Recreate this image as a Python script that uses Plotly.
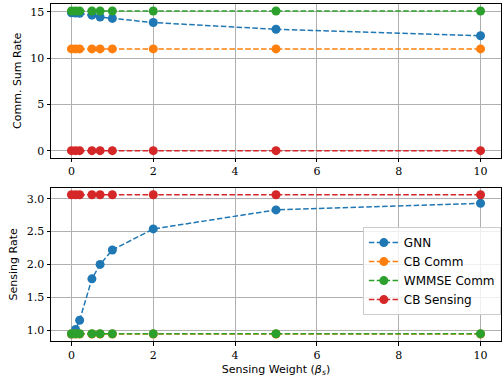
import plotly.graph_objects as go
from plotly.subplots import make_subplots

beta = [0, 0.1, 0.2, 0.5, 0.7, 1, 2, 5, 10]

series_names = ["GNN", "CB Comm", "WMMSE Comm", "CB Sensing"]
colors = ["#1f77b4", "#ff7f0e", "#2ca02c", "#d62728"]

comm_gnn = [14.9, 14.88, 14.85, 14.65, 14.45, 14.3, 13.85, 13.12, 12.42]
comm_cb_comm = [11.0] * 9
comm_wmmse = [15.1] * 9
comm_cb_sens = [0.0] * 9

sens_gnn = [0.94, 1.01, 1.15, 1.78, 2.0, 2.22, 2.54, 2.83, 2.93]
sens_cb_comm = [0.94] * 9
sens_wmmse = [0.945] * 9
sens_cb_sens = [3.06] * 9

x_ticks = [0, 2, 4, 6, 8, 10]
comm_ticks = [0, 5, 10, 15]
sens_ticks = [1.0, 1.5, 2.0, 2.5, 3.0]

fig = make_subplots(rows=2, cols=1, vertical_spacing=0.09)

comm = [comm_gnn, comm_cb_comm, comm_wmmse, comm_cb_sens]
sens = [sens_gnn, sens_cb_comm, sens_wmmse, sens_cb_sens]

for i, name in enumerate(series_names):
    style = dict(mode="lines+markers",
                 line=dict(color=colors[i], width=1.5, dash="5.5px,2.4px"),
                 marker=dict(color=colors[i], size=9))
    fig.add_trace(go.Scatter(x=beta, y=comm[i], name=name, showlegend=False, **style), row=1, col=1)
    fig.add_trace(go.Scatter(x=beta, y=sens[i], name=name, showlegend=True, **style), row=2, col=1)

tick_font = dict(family="DejaVu Serif", size=11, color="black")
title_font = dict(family="DejaVu Sans", size=11, color="black")
axis_common = dict(showline=True, linecolor="black", linewidth=1, mirror=True,
                   ticks="outside", ticklen=3.5, tickwidth=1, tickcolor="black",
                   showgrid=True, gridcolor="#b0b0b0", gridwidth=0.8,
                   zeroline=False, tickfont=tick_font, automargin=False)

fig.update_xaxes(range=[-0.5, 10.5], tickvals=x_ticks, **axis_common)
fig.update_xaxes(domain=[0, 1])
fig.update_yaxes(**axis_common)

fig.update_yaxes(range=[-0.755, 15.855], tickvals=comm_ticks, domain=[0.544, 1.0],
                 title=dict(text="Comm. Sum Rate", font=title_font, standoff=6), row=1, col=1)
fig.update_yaxes(range=[0.834, 3.168], tickvals=sens_ticks, tickformat=".1f", domain=[0.0, 0.455],
                 title=dict(text="Sensing Rate", font=title_font, standoff=6), row=2, col=1)
fig.update_xaxes(title=dict(text="Sensing Weight (<i>β<sub>s</sub></i>)", font=title_font, standoff=4),
                 row=2, col=1)

fig.update_layout(
    width=503, height=381,
    margin=dict(l=51, r=2, t=4, b=40),
    paper_bgcolor="white", plot_bgcolor="white",
    legend=dict(x=0.693, y=0.338, xanchor="left", yanchor="top",
                bgcolor="rgba(255,255,255,0.8)", bordercolor="#cccccc", borderwidth=1,
                font=dict(family="DejaVu Sans", size=12, color="black"),
                itemwidth=30, tracegroupgap=0),
)

fig.write_html("out.html", config={"displayModeBar": False},
               post_script="document.body.style.margin='0';")
